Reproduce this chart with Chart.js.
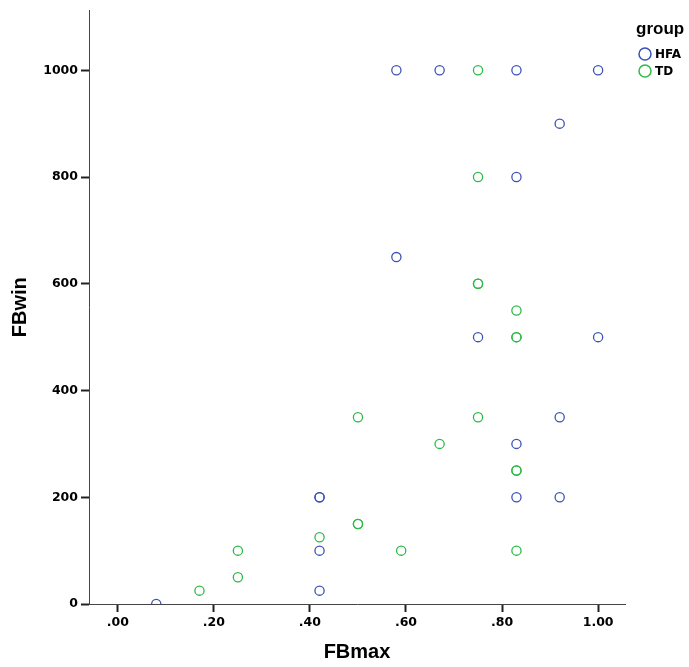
<!DOCTYPE html>
<html>
<head>
<meta charset="utf-8">
<script src="https://cdn.jsdelivr.net/npm/chart.js@4/dist/chart.umd.min.js"></script>
<style>
  body { margin: 0; background: #fff; }
  canvas { display: block; }
</style>
</head>
<body>
<canvas id="grafico" width="689" height="667"></canvas>
<script>
// valores
var hfaX = [0.58, 0.67, 0.83, 1.00, 0.92, 0.83, 0.58, 0.75, 1.00, 0.92, 0.83, 0.42, 0.42, 0.83, 0.92, 0.42, 0.42, 0.08];
var hfaY = [1000, 1000, 1000, 1000, 900, 800, 650, 500, 500, 350, 300, 200, 200, 200, 200, 100, 25, 0];
var tdX = [0.75, 0.75, 0.75, 0.75, 0.83, 0.83, 0.83, 0.50, 0.75, 0.67, 0.83, 0.83, 0.50, 0.50, 0.42, 0.25, 0.59, 0.83, 0.25, 0.17];
var tdY = [1000, 800, 600, 600, 550, 500, 500, 350, 350, 300, 250, 250, 150, 150, 125, 100, 100, 100, 50, 25];
var grupos = ['HFA', 'TD'];
var xTicks = [0, 0.2, 0.4, 0.6, 0.8, 1.0];
var yTicks = [0, 200, 400, 600, 800, 1000];

var azul = '#3B52B6';
var verde = '#2DBA47';

function pontos(xs, ys) {
    var lista = [];
    for (var i = 0; i < xs.length; i++) {
        lista.push({x: xs[i], y: ys[i]});
    }
    return lista;
}

var fonteTick = {family: '"DejaVu Sans"', weight: 'bold', size: 12.5};
var fonteTitulo = {family: '"Liberation Sans"', weight: 'bold', size: 20};

// legenda desenhada a mao no canto direito
var legendaGrupo = {
    id: 'legendaGrupo',
    afterDraw: function(chart) {
        var ctx = chart.ctx;
        ctx.save();
        ctx.fillStyle = '#000';
        ctx.font = 'bold 17px "Liberation Sans"';
        ctx.textBaseline = 'alphabetic';
        ctx.textAlign = 'left';
        ctx.fillText('group', 636, 34);
        chart.data.datasets.forEach(function(ds, i) {
            var y = 54 + i * 17;
            ctx.beginPath();
            ctx.arc(645, y, 6, 0, Math.PI * 2);
            ctx.lineWidth = 1.5;
            ctx.strokeStyle = ds.borderColor;
            ctx.stroke();
            ctx.fillStyle = '#000';
            ctx.font = 'bold 12px "DejaVu Sans"';
            ctx.textBaseline = 'middle';
            ctx.fillText(ds.label, 655, y + 1);
        });
        ctx.restore();
    }
};

var data = {
    datasets: [{
        label: grupos[0],
        data: pontos(hfaX, hfaY),
        borderColor: azul,
        backgroundColor: 'rgba(0,0,0,0)',
        pointRadius: 4.6,
        pointBorderWidth: 1.3,
        clip: 0
    }, {
        label: grupos[1],
        data: pontos(tdX, tdY),
        borderColor: verde,
        backgroundColor: 'rgba(0,0,0,0)',
        pointRadius: 4.6,
        pointBorderWidth: 1.3,
        clip: 0
    }]
};

var config = {
    type: 'scatter',
    data: data,
    plugins: [legendaGrupo],
    options: {
        responsive: false,
        animation: false,
        layout: {padding: {top: 10, right: 64, left: 0, bottom: 0}},
        plugins: {legend: {display: false}, tooltip: {enabled: false}},
        scales: {
            x: {
                min: -0.06,
                max: 1.056,
                afterBuildTicks: function(scale) {
                    scale.ticks = xTicks.map(function(v) { return {value: v}; });
                },
                afterFit: function(scale) { scale.height = 63; },
                border: {color: '#444', width: 1},
                grid: {drawOnChartArea: false, tickLength: 8, color: '#222', tickWidth: 2},
                ticks: {
                    color: '#000',
                    font: fonteTick,
                    padding: 3,
                    maxRotation: 0,
                    callback: function(v) { return v.toFixed(2).replace(/^0/, ''); }
                },
                title: {display: true, text: 'FBmax', color: '#000', font: fonteTitulo, padding: {top: 0, bottom: 3}}
            },
            y: {
                min: 0,
                max: 1112,
                afterBuildTicks: function(scale) {
                    scale.ticks = yTicks.map(function(v) { return {value: v}; });
                },
                afterFit: function(scale) { scale.width = 89; },
                border: {color: '#444', width: 1},
                grid: {drawOnChartArea: false, tickLength: 8, color: '#222', tickWidth: 2},
                ticks: {
                    color: '#000',
                    font: fonteTick,
                    padding: 3,
                    callback: function(v) { return String(v); }
                },
                title: {display: true, text: 'FBwin', color: '#000', font: fonteTitulo, padding: {top: 8, bottom: 0}}
            }
        }
    }
};

var grafico = new Chart(document.getElementById('grafico'), config);
</script>
</body>
</html>
